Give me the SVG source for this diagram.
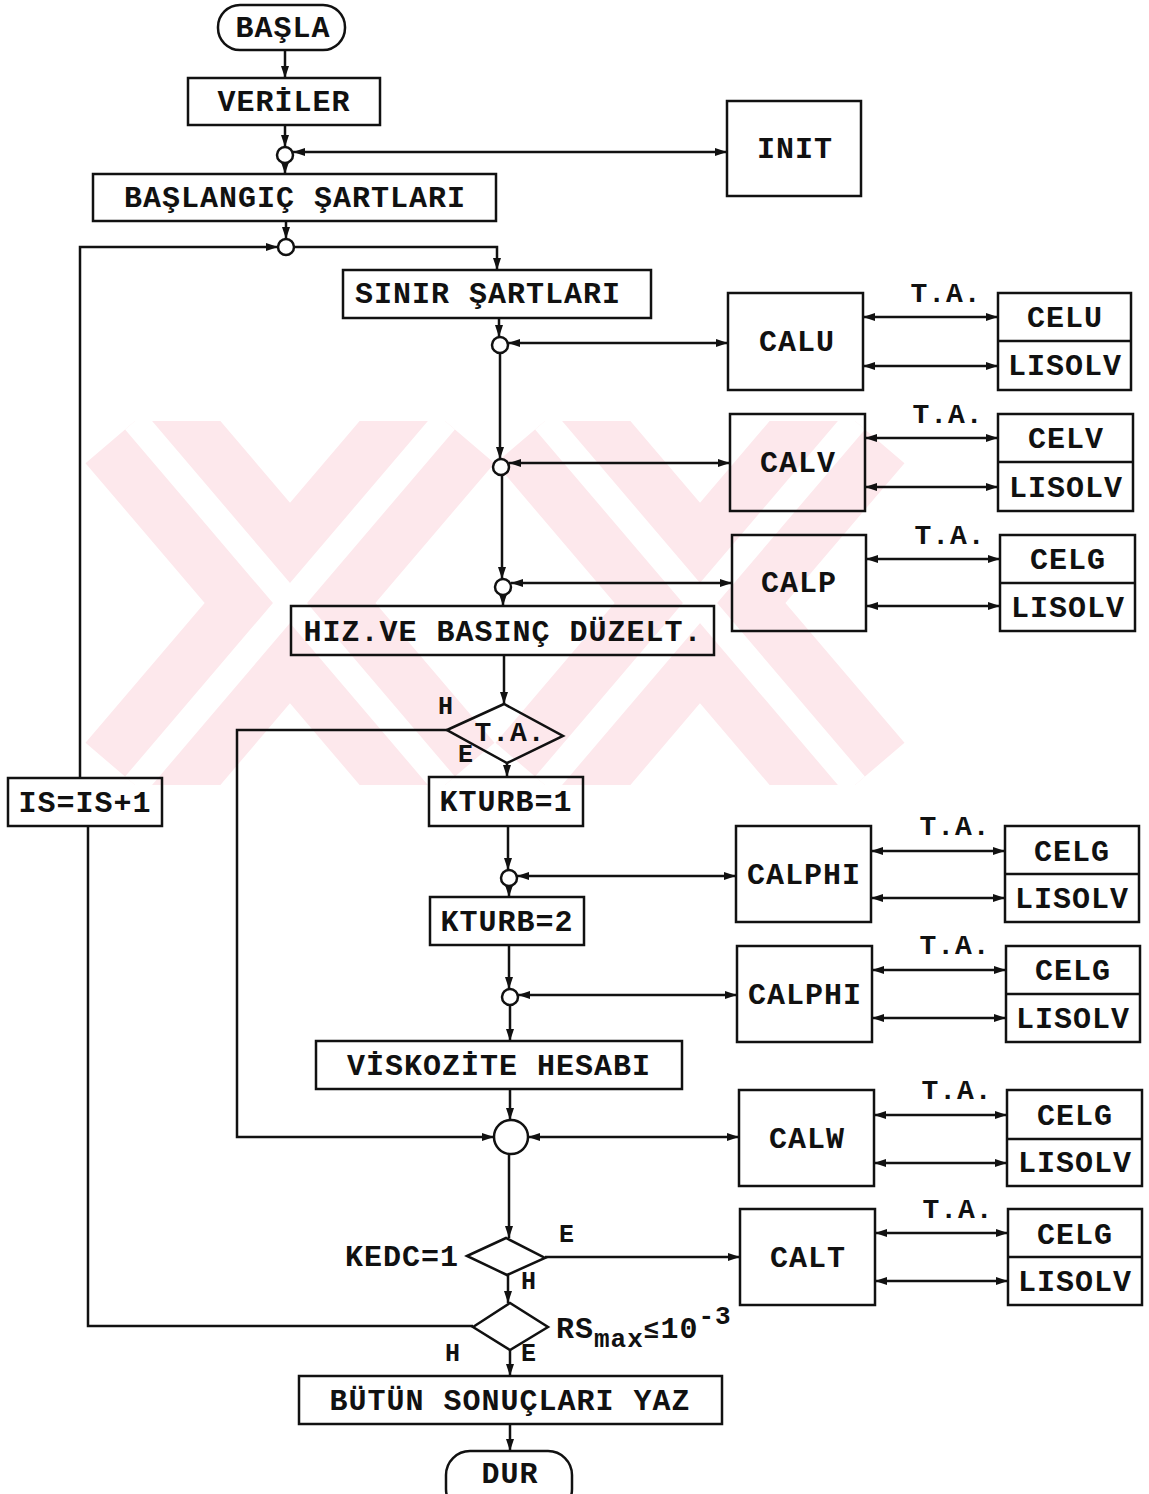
<svg xmlns="http://www.w3.org/2000/svg" width="1149" height="1494" viewBox="0 0 1149 1494">
<defs>
<marker id="ah" viewBox="0 0 12 9" refX="12" refY="4.5" markerWidth="12" markerHeight="9" markerUnits="userSpaceOnUse" orient="auto-start-reverse"><path d="M0,0.5 L12,4.5 L0,8.5 z" fill="#111"/></marker>
<clipPath id="wm"><rect x="0" y="421" width="1005" height="364"/></clipPath>
<style>
.b{fill:none;stroke:#111;stroke-width:2.5}
.c{fill:#fff;stroke:#111;stroke-width:2.5}
.l{fill:none;stroke:#111;stroke-width:2.5}
.a{marker-end:url(#ah)}
.d{marker-start:url(#ah);marker-end:url(#ah)}
text{font-family:"Liberation Mono","DejaVu Sans Mono",monospace;font-weight:bold;fill:#111;font-size:30px;letter-spacing:1px;text-anchor:middle}
text.s{font-size:28px}
text.sm{font-size:25px}
.w{fill:none;stroke:#fde8ec;stroke-width:130}
.wg{fill:none;stroke:#fff;stroke-width:26}
</style>
</defs>
<rect width="1149" height="1494" fill="#fff"/>
<g id="watermark" clip-path="url(#wm)">
<path class="w" d="M135,421 L445,785 M445,421 L135,785 M545,421 L855,785 M855,421 L545,785"/>
<path class="wg" d="M135,421 L445,785 M445,421 L135,785 M545,421 L855,785 M855,421 L545,785"/>
</g>
<g id="connectors">
<path class="l a" d="M285,50 V78"/>
<path class="l a" d="M285,125 V147"/>
<path class="l a" d="M285,163 V174"/>
<path class="l d" d="M293,152 H727"/>
<path class="l a" d="M286,221 V239"/>
<path class="l a" d="M80,778 V247 H278"/>
<path class="l a" d="M294,247 H497 V270"/>
<path class="l a" d="M499,318 V337"/>
<path class="l d" d="M508,343 H728"/>
<path class="l a" d="M500,353 V459"/>
<path class="l d" d="M509,463 H730"/>
<path class="l a" d="M502,475 V579"/>
<path class="l d" d="M511,583 H732"/>
<path class="l a" d="M503,595 V606"/>
<path class="l a" d="M504,655 V704"/>
<path class="l a" d="M507,763 V777"/>
<path class="l a" d="M447,730 H237 V1137 H494"/>
<path class="l a" d="M508,826 V870"/>
<path class="l d" d="M517,876 H736"/>
<path class="l a" d="M509,886 V897"/>
<path class="l a" d="M509,945 V989"/>
<path class="l d" d="M518,995 H737"/>
<path class="l a" d="M510,1005 V1041"/>
<path class="l a" d="M510,1089 V1120"/>
<path class="l d" d="M528,1137 H739"/>
<path class="l a" d="M509,1154 V1238"/>
<path class="l a" d="M545,1257 H740"/>
<path class="l a" d="M508,1275 V1303"/>
<path class="l" d="M473,1326 H88 V826"/>
<path class="l a" d="M510,1350 V1376"/>
<path class="l a" d="M510,1424 V1451"/>
<path class="l d" d="M863,317 H998"/>
<path class="l d" d="M863,366 H998"/>
<path class="l d" d="M865,438 H998"/>
<path class="l d" d="M865,487 H998"/>
<path class="l d" d="M866,559 H1000"/>
<path class="l d" d="M866,606 H1000"/>
<path class="l d" d="M871,851 H1005"/>
<path class="l d" d="M871,898 H1005"/>
<path class="l d" d="M872,970 H1006"/>
<path class="l d" d="M872,1018 H1006"/>
<path class="l d" d="M874,1115 H1007"/>
<path class="l d" d="M874,1163 H1007"/>
<path class="l d" d="M875,1233 H1008"/>
<path class="l d" d="M875,1281 H1008"/>
</g>
<g id="basla"><rect class="b" x="218" y="5" width="127" height="45" rx="22"/><text x="283" y="37">BAŞLA</text></g>
<g id="veriler"><rect class="b" x="188" y="78" width="192" height="47"/><text x="284" y="111">VERİLER</text></g>
<g id="j1"><circle class="c" cx="285" cy="155" r="8"/></g>
<g id="init"><rect class="b" x="727" y="101" width="134" height="95"/><text x="795" y="158">INIT</text></g>
<g id="baslangic"><rect class="b" x="93" y="174" width="403" height="47"/><text x="295" y="207">BAŞLANGIÇ ŞARTLARI</text></g>
<g id="j2"><circle class="c" cx="286" cy="247" r="8"/></g>
<g id="sinir"><rect class="b" x="343" y="270" width="308" height="48"/><text x="488" y="303">SINIR ŞARTLARI</text></g>
<g id="j3"><circle class="c" cx="500" cy="345" r="8"/></g>
<g id="calu"><rect class="b" x="728" y="293" width="135" height="97"/><text x="797" y="351">CALU</text></g>
<g id="celu"><rect class="b" x="998" y="293" width="133" height="97"/><path class="l" d="M998,341 H1131"/><text x="1065" y="327">CELU</text><text x="1065" y="375">LISOLV</text><text x="946" y="302" class="s">T.A.</text></g>
<g id="j4"><circle class="c" cx="501" cy="467" r="8"/></g>
<g id="calv"><rect class="b" x="730" y="414" width="135" height="97"/><text x="798" y="472">CALV</text></g>
<g id="celv"><rect class="b" x="998" y="414" width="135" height="97"/><path class="l" d="M998,462 H1133"/><text x="1066" y="448">CELV</text><text x="1066" y="497">LISOLV</text><text x="948" y="423" class="s">T.A.</text></g>
<g id="j5"><circle class="c" cx="503" cy="587" r="8"/></g>
<g id="calp"><rect class="b" x="732" y="535" width="134" height="96"/><text x="799" y="592">CALP</text></g>
<g id="celg1"><rect class="b" x="1000" y="535" width="135" height="96"/><path class="l" d="M1000,583 H1135"/><text x="1068" y="569">CELG</text><text x="1068" y="617">LISOLV</text><text x="950" y="544" class="s">T.A.</text></g>
<g id="hiz"><rect class="b" x="291" y="606" width="423" height="49"/><text x="503" y="641">HIZ.VE BASINÇ DÜZELT.</text></g>
<g id="ta"><path class="b" d="M447,730 L504,704 L563,736 L507,763 Z"/><text x="510" y="741" class="s">T.A.</text><text x="446" y="714" class="sm">H</text><text x="466" y="762" class="sm">E</text></g>
<g id="kturb1"><rect class="b" x="429" y="777" width="154" height="49"/><text x="506" y="811">KTURB=1</text></g>
<g id="j6"><circle class="c" cx="509" cy="878" r="8"/></g>
<g id="calphi1"><rect class="b" x="736" y="826" width="135" height="96"/><text x="804" y="884">CALPHI</text></g>
<g id="celg2"><rect class="b" x="1005" y="826" width="134" height="96"/><path class="l" d="M1005,874 H1139"/><text x="1072" y="861">CELG</text><text x="1072" y="908">LISOLV</text><text x="955" y="835" class="s">T.A.</text></g>
<g id="kturb2"><rect class="b" x="430" y="897" width="154" height="48"/><text x="507" y="931">KTURB=2</text></g>
<g id="j7"><circle class="c" cx="510" cy="997" r="8"/></g>
<g id="calphi2"><rect class="b" x="737" y="946" width="135" height="96"/><text x="805" y="1004">CALPHI</text></g>
<g id="celg3"><rect class="b" x="1006" y="946" width="134" height="96"/><path class="l" d="M1006,994 H1140"/><text x="1073" y="980">CELG</text><text x="1073" y="1028">LISOLV</text><text x="955" y="954" class="s">T.A.</text></g>
<g id="visk"><rect class="b" x="316" y="1041" width="366" height="48"/><text x="499" y="1075">VİSKOZİTE HESABI</text></g>
<g id="j8"><circle class="c" cx="511" cy="1137" r="17"/></g>
<g id="calw"><rect class="b" x="739" y="1090" width="135" height="96"/><text x="807" y="1148">CALW</text></g>
<g id="celg4"><rect class="b" x="1007" y="1090" width="135" height="96"/><path class="l" d="M1007,1139 H1142"/><text x="1075" y="1125">CELG</text><text x="1075" y="1172">LISOLV</text><text x="957" y="1099" class="s">T.A.</text></g>
<g id="kedc"><path class="b" d="M467,1256 L506,1238 L545,1258 L507,1275 Z"/><text x="402" y="1266">KEDC=1</text><text x="567" y="1242" class="sm">E</text><text x="529" y="1289" class="sm">H</text></g>
<g id="calt"><rect class="b" x="740" y="1209" width="135" height="96"/><text x="808" y="1267">CALT</text></g>
<g id="celg5"><rect class="b" x="1008" y="1209" width="134" height="96"/><path class="l" d="M1008,1257 H1142"/><text x="1075" y="1244">CELG</text><text x="1075" y="1291">LISOLV</text><text x="958" y="1218" class="s">T.A.</text></g>
<g id="rs"><path class="b" d="M473,1327 L510,1303 L548,1327 L510,1350 Z"/><text x="556" y="1338" style="text-anchor:start">RS<tspan dy="9" font-size="26">max</tspan><tspan dy="-9" font-size="26">≤</tspan>10<tspan dy="-14" font-size="26">-3</tspan></text><text x="453" y="1361" class="sm">H</text><text x="529" y="1361" class="sm">E</text></g>
<g id="is"><rect class="b" x="8" y="778" width="154" height="48"/><text x="85" y="812">IS=IS+1</text></g>
<g id="butun"><rect class="b" x="299" y="1376" width="423" height="48"/><text x="510" y="1410">BÜTÜN SONUÇLARI YAZ</text></g>
<g id="dur"><rect class="b" x="446" y="1451" width="126" height="62" rx="24"/><text x="510" y="1483">DUR</text></g>
</svg>
